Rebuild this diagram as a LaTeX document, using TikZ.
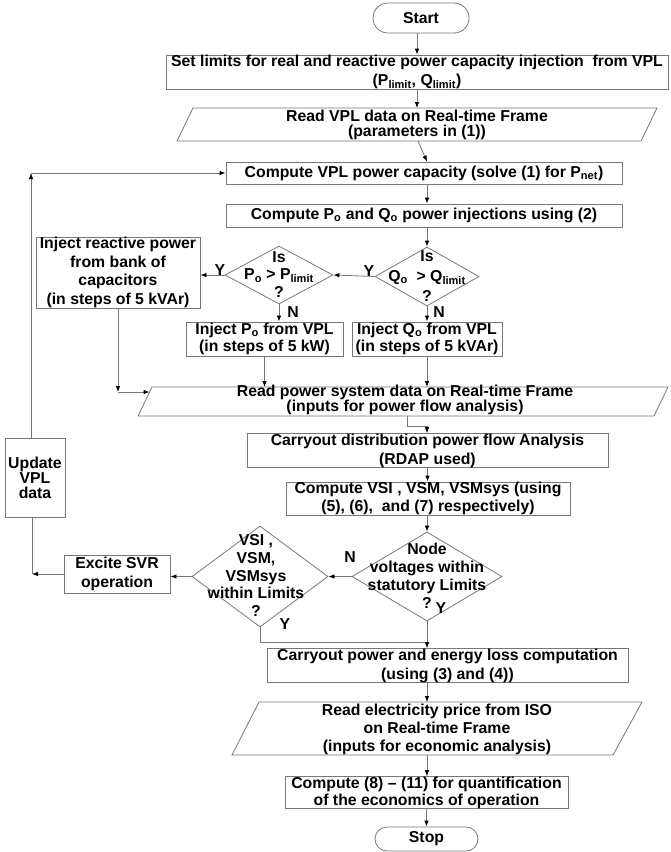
\documentclass[tikz,border=0pt]{standalone}
\usepackage{fontspec}
\setmainfont{Liberation Sans}
\usetikzlibrary{arrows.meta,shapes.geometric,calc}
\definecolor{lc}{RGB}{120,120,120}
\newcommand{\flowfont}[1]{\bfseries\fontsize{15.8}{#1}\selectfont}
\tikzset{
  ln/.style={draw=lc, line width=0.8pt},
  box/.style={ln, rectangle, inner sep=0pt, align=center},
  term/.style={box},
  dia/.style={ln, diamond, inner sep=0pt},
  txt/.style={inner sep=0pt, align=center},
  arr/.style={draw=lc, line width=0.8pt, -{Latex[length=6pt,width=4.5pt,color=black]}},
  con/.style={draw=lc, line width=0.8pt},
  lab/.style={inner sep=0pt, font=\flowfont{18}}
}
\begin{document}
\begin{tikzpicture}[x=1pt,y=-1pt]
\useasboundingbox[fill=white] (0,0) rectangle (670,852);

% terminals and boxes
\node[term, rounded corners=15pt, minimum width=96pt, minimum height=30pt, font=\flowfont{18}] (start) at (421,18) {Start};
\node[box, minimum width=502pt, minimum height=34pt, font=\flowfont{19}] (setlim) at (417,72)
  {Set limits for real and reactive power capacity injection\ \ from VPL\\(P\textsubscript{limit}, Q\textsubscript{limit})};

% Read VPL parallelogram
\coordinate (rv-tl) at (193,108);
\coordinate (rv-tr) at (657,108);
\coordinate (rv-br) at (641,141);
\coordinate (rv-bl) at (177,141);
\draw[ln] (rv-tl) -- (rv-tr) -- (rv-br) -- (rv-bl) -- cycle;
\node[txt, font=\flowfont{15}] (readvpl) at (417,124.5) {Read VPL data on Real-time Frame\\(parameters in (1))};
\coordinate (rv-out) at (418,141);

\node[box, minimum width=396pt, minimum height=22pt, font=\flowfont{18}] (compvpl) at (424,173)
  {Compute VPL power capacity (solve (1) for P\textsubscript{net})};
\node[box, minimum width=396pt, minimum height=23pt, font=\flowfont{18}] (comppo) at (424,215.5)
  {Compute P\textsubscript{o} and Q\textsubscript{o} power injections using (2)};

% decisions for Q and P
\node[dia, minimum width=104pt, minimum height=59pt] (qo) at (427,276.5) {};
\node[txt, font=\flowfont{20}] (qot) at (427,276) {Is\\Q\textsubscript{o}\ \ > Q\textsubscript{limit}\\?};
\node[dia, minimum width=108pt, minimum height=58pt] (po) at (279,275) {};
\node[txt, font=\flowfont{17.5}] (pot) at (279,274.5) {Is\\P\textsubscript{o} > P\textsubscript{limit}\\?};

\node[box, minimum width=164pt, minimum height=71pt, font=\flowfont{18.7}] (injreact) at (118,272.5)
  {Inject reactive power\\from bank of\\capacitors\\(in steps of 5 kVAr)};
\node[box, minimum width=157pt, minimum height=34pt, font=\flowfont{17}] (injpo) at (264.5,339)
  {Inject P\textsubscript{o} from VPL\\(in steps of 5 kW)};
\node[box, minimum width=150pt, minimum height=34pt, font=\flowfont{17}] (injqo) at (427,339)
  {Inject Q\textsubscript{o} from VPL\\(in steps of 5 kVAr)};

% Read power system parallelogram
\coordinate (rp-tl) at (152,387);
\coordinate (rp-tr) at (668,387);
\coordinate (rp-br) at (654,416);
\coordinate (rp-bl) at (138,416);
\draw[ln] (rp-tl) -- (rp-tr) -- (rp-br) -- (rp-bl) -- cycle;
\node[txt, font=\flowfont{13.5}] (readps) at (405,400) {Read power system data on Real-time Frame\\(inputs for power flow analysis)};
\coordinate (ps-in) at (149.6,392);
\coordinate (ps-out) at (407,416);

\node[box, minimum width=361pt, minimum height=33pt, font=\flowfont{19}] (carry1) at (427.5,450.5)
  {Carryout distribution power flow Analysis\\(RDAP used)};
\node[box, minimum width=284pt, minimum height=33pt, font=\flowfont{18}] (compvsi) at (428,498.5)
  {Compute VSI , VSM, VSMsys (using\\(5), (6),\ \ and (7) respectively)};

\node[dia, minimum width=150pt, minimum height=89pt] (nodev) at (427,576.5) {};
\node[txt, font=\flowfont{18}] (nodet) at (427,576) {Node\\voltages within\\statutory Limits\\?};
\node[dia, minimum width=136pt, minimum height=101pt] (vsid) at (260,576.5) {};
\node[txt, font=\flowfont{17.75}] (vsit) at (256,575.5) {VSI ,\\VSM,\\VSMsys\\within Limits\\?};

\node[box, minimum width=106pt, minimum height=38pt, font=\flowfont{19}] (excite) at (117,574) {Excite SVR\\operation};
\node[box, minimum width=60pt, minimum height=79pt, font=\flowfont{15}] (update) at (35,477.5) {Update\\VPL\\data};

\node[box, minimum width=361pt, minimum height=31pt, font=\flowfont{19}] (carry2) at (447.5,665.5)
  {Carryout power and energy loss computation\\(using (3) and (4))};

% Read electricity parallelogram
\coordinate (re-tl) at (259,702);
\coordinate (re-tr) at (642,702);
\coordinate (re-br) at (613,755);
\coordinate (re-bl) at (232,755);
\draw[ln] (re-tl) -- (re-tr) -- (re-br) -- (re-bl) -- cycle;
\node[txt, font=\flowfont{18}] (readel) at (437,729) {Read electricity price from ISO\\on Real-time Frame\\(inputs for economic analysis)};

\node[box, minimum width=283pt, minimum height=31pt, font=\flowfont{17}] (compeco) at (426.5,792.5)
  {Compute (8) -- (11) for quantification\\of the economics of operation};
\node[term, rounded corners=12pt, minimum width=103pt, minimum height=24pt, font=\flowfont{18}] (stop) at (426.5,839) {Stop};

% labels
\node[lab] (yq) at (369,271) {Y};
\node[lab] (yp) at (220,270) {Y};
\node[lab] (np) at (293,312) {N};
\node[lab] (nq) at (439,312) {N};
\node[lab] (nn) at (350,557) {N};
\node[lab] (yn) at (441,608) {Y};
\node[lab] (yv) at (285,624) {Y};

% connectors
\draw[arr] (setlim.north |- start.south) -- (setlim.north);
\draw[arr] (setlim.south) -- (setlim.south |- rv-tl);
\draw[arr] (rv-out) -- (compvpl.north -| qo.north);
\draw[arr] (qo.north |- compvpl.south) -- (qo.north |- comppo.north);
\draw[arr] (qo.north |- comppo.south) -- (qo.north);
\draw[arr] (qo.west) -- (po.east);
\draw[arr] (po.west) -- (injreact.east |- po.west);
\draw[arr] (po.south) -- (po.south |- injpo.north);
\draw[arr] (qo.south) -- (injqo.north);
\draw[arr] (injpo.south) -- (injpo.south |- rp-tl);
\draw[arr] (injqo.south) -- (injqo.south |- rp-tl);
\coordinate (ir1) at (injreact.south |- ps-in);
\draw[arr] (injreact.south) -- (ir1);
\draw[arr] (ir1) -- (ps-in);
\coordinate (psj) at (427,426);
\draw[con] (ps-out) |- (psj);
\draw[arr] (psj) -- (psj |- carry1.north);
\draw[arr] (carry1.south) -- (carry1.south |- compvsi.north);
\draw[arr] (nodev.north |- compvsi.south) -- (nodev.north);
\draw[arr] (nodev.west) -- (vsid.east);
\draw[arr] (vsid.west) -- (excite.east |- vsid.west);
\coordinate (lp2) at (32,574);
\draw[arr] (excite.west) -- (lp2);
\draw[con] (lp2) -- (update.south -| lp2);
\coordinate (lp1) at (31,173);
\draw[arr] (update.north -| lp1) -- (lp1);
\draw[arr] (lp1) -- (compvpl.west);
\coordinate (jn) at (427,642);
\draw[con] (vsid.south) |- (jn);
\draw[arr] (nodev.south) -- (nodev.south |- carry2.north);
\draw[arr] (nodev.south |- carry2.south) -- (nodev.south |- re-tl);
\draw[arr] (nodev.south |- re-bl) -- (nodev.south |- compeco.north);
\draw[arr] (compeco.south) -- (stop.north);
\end{tikzpicture}
\end{document}
